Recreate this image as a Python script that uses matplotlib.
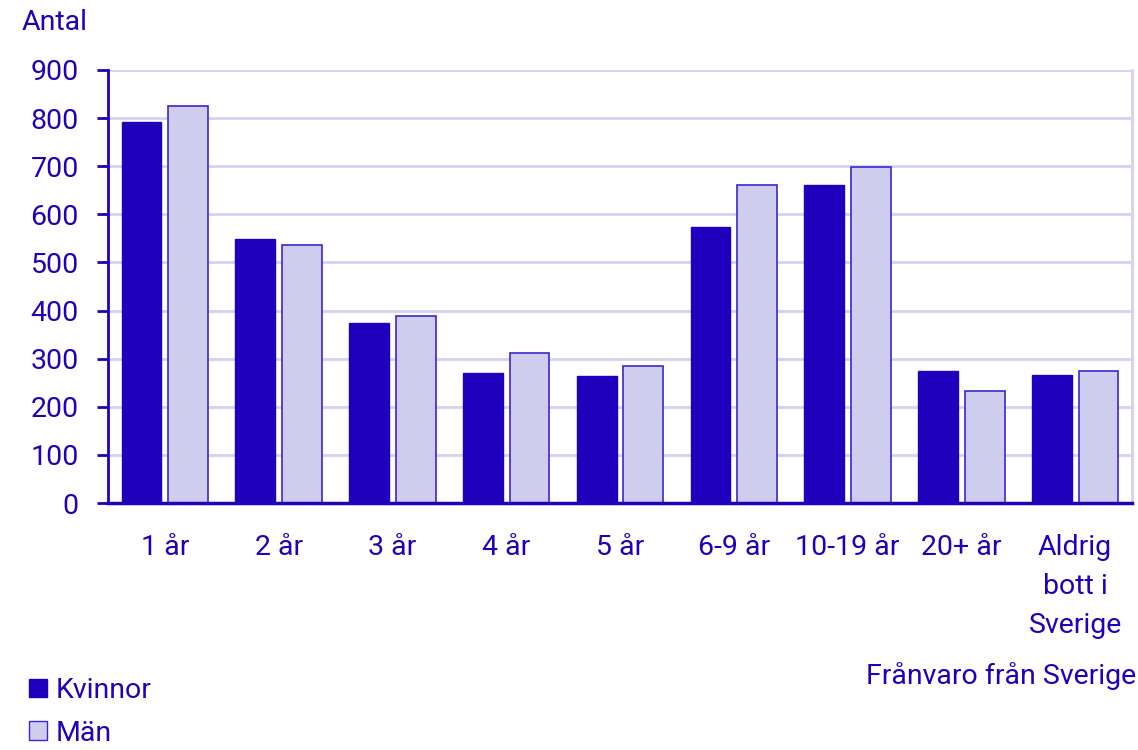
import matplotlib.pyplot as plt
import numpy as np
from matplotlib.patches import Patch

# data
categories = ['1 år', '2 år', '3 år', '4 år', '5 år', '6-9 år', '10-19 år', '20+ år',
              'Aldrig\nbott i\nSverige']
kvinnor = [792, 549, 374, 270, 264, 574, 662, 275, 267]
man = [825, 536, 389, 312, 285, 662, 699, 233, 274]
yticks = [0, 100, 200, 300, 400, 500, 600, 700, 800, 900]

dark = '#1f00bd'
light = '#d0ccee'
grid = '#d4d2f0'
fs = 20.5

plt.rcParams['font.family'] = ['Roboto', 'DejaVu Sans']

fig = plt.figure(figsize=(11.38, 7.5), dpi=100)
ax = fig.add_axes([108 / 1138, 1 - 503 / 750, (1132 - 108) / 1138, (503 - 70) / 750])

x = np.arange(len(categories))
bw = 0.35
ax.bar(x - 0.205, kvinnor, width=bw, color=dark, edgecolor=dark, linewidth=1, zorder=3)
ax.bar(x + 0.205, man, width=bw, color=light, edgecolor='#3a28cc', linewidth=1.2, zorder=3)

ax.set_xlim(-0.5, len(categories) - 0.5)
ax.set_ylim(0, 900)
ax.set_yticks(yticks)
ax.set_xticks(x)
ax.set_xticklabels(categories, linespacing=1.58)
ax.yaxis.grid(True, color=grid, linewidth=2, zorder=0)
ax.set_axisbelow(True)

ax.spines['top'].set_visible(False)
ax.spines['right'].set_color(grid)
ax.spines['right'].set_linewidth(2)
ax.spines['left'].set_color(dark)
ax.spines['left'].set_linewidth(2)
ax.spines['bottom'].set_color(dark)
ax.spines['bottom'].set_linewidth(2.5)
ax.spines['bottom'].set_zorder(4)

ax.tick_params(axis='y', colors=dark, labelsize=fs, length=8, width=2, pad=13)
ax.tick_params(axis='x', colors=dark, labelsize=fs, length=0, pad=22)

fig.text(22 / 1138, 1 - 22 / 750, 'Antal', color=dark, fontsize=fs, va='center', ha='left')
fig.text(1136 / 1138, 1 - 676 / 750, 'Frånvaro från Sverige', color=dark, fontsize=fs,
         va='center', ha='right')

handles = [Patch(facecolor=dark, edgecolor=dark, label='Kvinnor'),
           Patch(facecolor=light, edgecolor='#3a28cc', label='Män')]
leg = fig.legend(handles=handles, loc='upper left', bbox_to_anchor=(29 / 1138, 1 - 677 / 750),
                 frameon=False, fontsize=fs, handlelength=0.62, handleheight=0.62,
                 handletextpad=0.3, labelspacing=0.55, borderaxespad=0, borderpad=0)
for t in leg.get_texts():
    t.set_color(dark)

fig.savefig('out.png', dpi=100)
